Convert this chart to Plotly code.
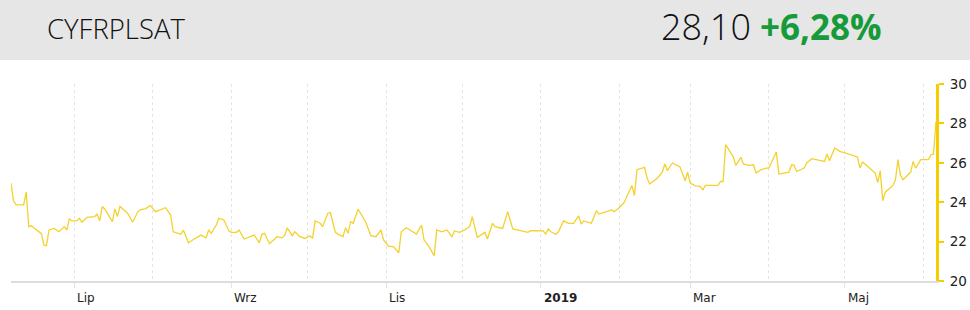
import plotly.graph_objects as go

# ---------------- data ----------------
ticker = "CYFRPLSAT"
last_price = "28,10"
change_pct = "+6,28%"

dates = [
    "2018-06-06", "2018-06-07", "2018-06-08", "2018-06-11", "2018-06-12", "2018-06-13", "2018-06-14",
    "2018-06-16", "2018-06-18", "2018-06-19", "2018-06-20", "2018-06-21", "2018-06-23", "2018-06-25",
    "2018-06-27", "2018-06-28", "2018-06-29", "2018-06-30", "2018-07-02", "2018-07-03", "2018-07-04",
    "2018-07-06", "2018-07-09", "2018-07-10", "2018-07-11", "2018-07-12", "2018-07-13", "2018-07-16",
    "2018-07-17", "2018-07-18", "2018-07-19", "2018-07-22", "2018-07-24", "2018-07-26", "2018-07-27",
    "2018-07-29", "2018-07-31", "2018-08-02", "2018-08-04", "2018-08-06", "2018-08-08", "2018-08-09",
    "2018-08-11", "2018-08-12", "2018-08-13", "2018-08-15", "2018-08-17", "2018-08-19", "2018-08-20",
    "2018-08-22", "2018-08-23", "2018-08-24", "2018-08-26", "2018-08-27", "2018-08-29", "2018-08-31",
    "2018-09-01", "2018-09-03", "2018-09-04", "2018-09-06", "2018-09-08", "2018-09-10", "2018-09-12",
    "2018-09-13", "2018-09-14", "2018-09-16", "2018-09-19", "2018-09-21", "2018-09-22", "2018-09-23",
    "2018-09-25", "2018-09-26", "2018-09-28", "2018-09-30", "2018-10-02", "2018-10-03", "2018-10-04",
    "2018-10-06", "2018-10-07", "2018-10-09", "2018-10-10", "2018-10-12", "2018-10-13", "2018-10-15",
    "2018-10-16", "2018-10-17", "2018-10-18", "2018-10-19", "2018-10-21", "2018-10-23", "2018-10-24",
    "2018-10-26", "2018-10-28", "2018-10-30", "2018-10-31", "2018-11-02", "2018-11-04", "2018-11-06",
    "2018-11-07", "2018-11-09", "2018-11-11", "2018-11-13", "2018-11-15", "2018-11-16", "2018-11-18",
    "2018-11-20", "2018-11-21", "2018-11-23", "2018-11-25", "2018-11-27", "2018-11-28", "2018-11-30",
    "2018-12-02", "2018-12-04", "2018-12-05", "2018-12-07", "2018-12-10", "2018-12-11", "2018-12-13",
    "2018-12-14", "2018-12-17", "2018-12-19", "2018-12-21", "2018-12-24", "2018-12-27", "2018-12-28",
    "2018-12-31", "2019-01-02", "2019-01-03", "2019-01-04", "2019-01-05", "2019-01-07", "2019-01-08",
    "2019-01-10", "2019-01-12", "2019-01-14", "2019-01-16", "2019-01-17", "2019-01-18", "2019-01-21",
    "2019-01-23", "2019-01-24", "2019-01-27", "2019-01-29", "2019-01-30", "2019-02-01", "2019-02-03",
    "2019-02-04", "2019-02-06", "2019-02-07", "2019-02-08", "2019-02-11", "2019-02-12", "2019-02-13",
    "2019-02-16", "2019-02-18", "2019-02-19", "2019-02-20", "2019-02-22", "2019-02-25", "2019-02-27",
    "2019-02-28", "2019-03-01", "2019-03-03", "2019-03-05", "2019-03-06", "2019-03-07", "2019-03-12",
    "2019-03-13", "2019-03-14", "2019-03-15", "2019-03-18", "2019-03-19", "2019-03-21", "2019-03-22",
    "2019-03-24", "2019-03-26", "2019-03-27", "2019-03-29", "2019-03-31", "2019-04-01", "2019-04-02",
    "2019-04-04", "2019-04-05", "2019-04-07", "2019-04-09", "2019-04-10", "2019-04-11", "2019-04-12",
    "2019-04-14", "2019-04-15", "2019-04-16", "2019-04-18", "2019-04-21", "2019-04-23", "2019-04-24",
    "2019-04-25", "2019-04-27", "2019-04-29", "2019-05-02", "2019-05-04", "2019-05-06", "2019-05-07",
    "2019-05-08", "2019-05-10", "2019-05-13", "2019-05-14", "2019-05-15", "2019-05-16", "2019-05-17",
    "2019-05-20", "2019-05-21", "2019-05-22", "2019-05-23", "2019-05-24", "2019-05-27", "2019-05-28",
    "2019-05-29", "2019-05-31", "2019-06-03", "2019-06-04", "2019-06-05", "2019-06-06",
]

prices = [
    24.97, 24.07, 23.86, 23.86, 24.51, 22.76, 22.80,
    22.59, 22.40, 21.82, 21.79, 22.59, 22.67, 22.50,
    22.76, 22.59, 23.15, 23.05, 23.05, 23.18, 22.98,
    23.23, 23.27, 23.39, 23.05, 23.78, 23.66, 23.01,
    23.66, 23.27, 23.78, 23.44, 22.98, 23.50, 23.61,
    23.66, 23.83, 23.52, 23.61, 23.72, 23.35, 22.50,
    22.42, 22.37, 22.59, 21.94, 22.11, 22.25, 22.33,
    22.19, 22.59, 22.42, 22.84, 23.18, 23.10, 22.54,
    22.47, 22.47, 22.59, 22.13, 22.25, 22.33, 21.94,
    22.37, 22.42, 21.89, 22.25, 22.19, 22.33, 22.70,
    22.30, 22.50, 22.25, 22.16, 22.30, 22.16, 23.05,
    22.93, 22.76, 23.44, 23.47, 22.47, 22.38, 22.25,
    22.70, 22.42, 23.01, 22.93, 23.64, 23.15, 22.98,
    22.30, 22.25, 22.59, 22.08, 21.77, 21.73, 21.43,
    22.50, 22.70, 22.55, 22.38, 22.84, 22.08, 21.73,
    21.28, 22.59, 22.50, 22.59, 22.25, 22.54, 22.47,
    22.59, 22.76, 23.27, 22.21, 22.47, 22.13, 22.93,
    22.76, 22.67, 23.52, 22.64, 22.54, 22.47, 22.55,
    22.55, 22.54, 22.38, 22.64, 22.50, 22.37, 22.50,
    23.05, 22.93, 22.93, 23.30, 22.89, 23.05, 22.93,
    23.57, 23.40, 23.52, 23.61, 23.52, 23.72, 24.00,
    24.29, 24.85, 24.34, 25.65, 25.77, 25.22, 24.92,
    25.22, 25.53, 25.94, 25.60, 25.99, 25.79, 25.09,
    25.53, 24.97, 24.83, 24.80, 24.63, 24.85, 24.85,
    25.05, 25.05, 26.92, 26.30, 25.87, 26.28, 25.94,
    25.87, 25.90, 25.48, 25.65, 25.73, 25.73, 25.99,
    26.55, 25.43, 25.48, 25.53, 25.90, 25.87, 25.56,
    25.65, 25.73, 25.99, 26.21, 26.12, 26.07, 26.45,
    26.10, 26.75, 26.58, 26.46, 26.38, 26.30, 25.73,
    26.04, 25.82, 25.48, 25.00, 25.60, 24.07, 24.51,
    24.85, 25.14, 26.16, 25.36, 25.14, 25.53, 26.07,
    25.73, 26.16, 26.16, 26.41, 26.44, 28.10,
]

month_ticks = [
    "2018-07-01", "2018-08-01", "2018-09-01", "2018-10-01", "2018-11-01", "2018-12-01",
    "2019-01-01", "2019-02-01", "2019-03-01", "2019-04-01", "2019-05-01", "2019-06-01",
]
label_dates = ["2018-07-01", "2018-09-01", "2018-11-01", "2019-01-01", "2019-03-01", "2019-05-01"]
label_texts = ["Lip", "Wrz", "Lis", "<b>2019</b>", "Mar", "Maj"]

y_range = [20, 30]

# ---------------- layout geometry ----------------
W, H = 970, 310
ML, MR, MT, MB = 11, 34, 84, 29
PW, PH = W - ML - MR, H - MT - MB


def px_x(px):
    return (px - ML) / PW


def px_y(py):
    return (H - MB - py) / PH


LINE_COLOR = "#f4d12c"
AXIS_COLOR = "#f6cd00"
HEAD_FONT = "Open Sans, sans-serif"

fig = go.Figure()
fig.add_trace(go.Scatter(
    x=dates, y=prices, mode="lines",
    line=dict(color=LINE_COLOR, width=1.3),
    hoverinfo="skip", showlegend=False,
))

annotations = []
for d, t in zip(label_dates, label_texts):
    annotations.append(dict(
        x=d, y=0, xref="x", yref="paper", text=t, showarrow=False,
        xanchor="left", yanchor="top", xshift=1, yshift=-8,
        font=dict(family="DejaVu Sans, Verdana, sans-serif", size=12, color="#222222"),
    ))

# header texts
annotations.append(dict(
    x=px_x(45), y=px_y(29), xref="paper", yref="paper", text=ticker, showarrow=False,
    xanchor="left", yanchor="middle",
    font=dict(family=HEAD_FONT, size=27.5, color="#111111", weight=300),
))
annotations.append(dict(
    x=px_x(659), y=px_y(27), xref="paper", yref="paper", text=last_price, showarrow=False,
    xanchor="left", yanchor="middle",
    font=dict(family=HEAD_FONT, size=36, color="#111111", weight=350),
))
annotations.append(dict(
    x=px_x(758), y=px_y(27), xref="paper", yref="paper", text="<b>" + change_pct + "</b>", showarrow=False,
    xanchor="left", yanchor="middle",
    font=dict(family=HEAD_FONT, size=35, color="#179a3a"),
))

shapes = [dict(
    type="rect", xref="paper", yref="paper",
    x0=px_x(0), x1=px_x(W), y0=px_y(60), y1=px_y(0),
    fillcolor="#e6e6e6", line=dict(width=0), layer="below",
)]

other_months = [m for m in month_ticks if m not in label_dates]

fig.update_layout(
    width=W, height=H,
    margin=dict(l=ML, r=MR, t=MT, b=MB, autoexpand=False),
    paper_bgcolor="white", plot_bgcolor="white",
    showlegend=False,
    annotations=annotations,
    shapes=shapes,
    xaxis=dict(
        range=[dates[0], dates[-1]],
        tickvals=label_dates, showticklabels=False,
        showgrid=True, gridcolor="#e4e4e4", griddash="dot", gridwidth=1,
        showline=True, linecolor="#dddddd", linewidth=2,
        ticks="outside", ticklen=5, tickcolor="#e4e4e4",
        minor=dict(tickvals=other_months, showgrid=True, gridcolor="#e4e4e4",
                   griddash="dot", gridwidth=1, ticks=""),
        zeroline=False, fixedrange=True, automargin=False,
    ),
    yaxis=dict(
        range=y_range, dtick=2, side="right",
        showgrid=False, zeroline=False,
        showline=True, linecolor=AXIS_COLOR, linewidth=3,
        ticks="outside", ticklen=5, tickwidth=2, tickcolor=AXIS_COLOR,
        ticklabelstandoff=3,
        tickfont=dict(family="DejaVu Sans, Verdana, sans-serif", size=13.5, color="#222222"),
        fixedrange=True, automargin=False,
    ),
)

fig.write_html("out.html")
